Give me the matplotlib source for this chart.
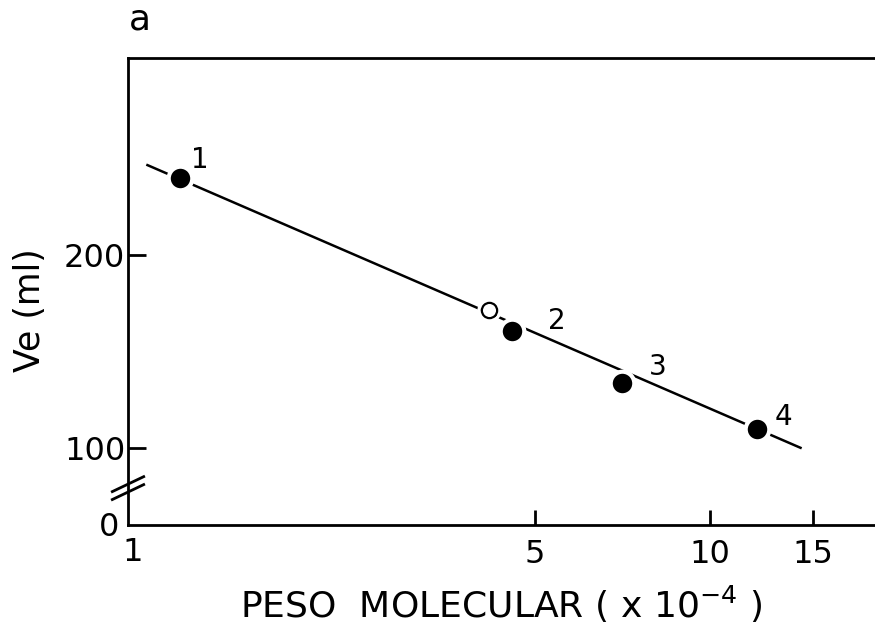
import numpy as np
import matplotlib
matplotlib.use("Agg")
import matplotlib.pyplot as plt

# ---- data ----
mw_filled = [1.23, 4.57, 7.06, 12.05]        # x 10^-4
ve_filled = [240.0, 160.5, 133.5, 110.0]     # ml
point_labels = ["1", "2", "3", "4"]
mw_open = [4.17]
ve_open = [171.5]
fit_x = [1.08, 14.3]
fit_y = [246.5, 100.0]
x_ticks = [5, 10, 15]
y_ticks = [100, 200]

plt.rcParams['font.family'] = ["DejaVu Sans"]

fig = plt.figure(figsize=(8.75, 6.37), dpi=100)
ax = fig.add_axes([128/875, 1-525/637, 1-128/875, (525-58)/637])
ax.set_xscale('log')
ax.set_xlim(1, 19.2)
ax.set_ylim(60, 302)

lw = 2.0
ax.plot(fit_x, fit_y, color='black', lw=1.8, zorder=2)
ax.plot(mw_filled, ve_filled, 'o', ms=17, mfc='black', mec='white', mew=3, zorder=3)
ax.plot(mw_open, ve_open, 'o', ms=11, mfc='white', mec='black', mew=1.6, zorder=3)
ax.plot(mw_open, ve_open, 'o', ms=15, mfc='none', mec='white', mew=2.5, zorder=2.5)

offsets_px = [(19, 18), (45, 10), (36, 16), (26, 12)]
for x, y, lab, (dx, dy) in zip(mw_filled, ve_filled, point_labels, offsets_px):
    ax.annotate(lab, (x, y), xytext=(dx * 0.72, dy * 0.72), textcoords='offset points',
                fontsize=20, ha='center', va='center')

for s in ['left', 'bottom', 'top']:
    ax.spines[s].set_linewidth(lw)
ax.spines['right'].set_visible(False)

ax.set_xticks(x_ticks)
ax.set_xticklabels([str(t) for t in x_ticks])
ax.xaxis.set_minor_locator(matplotlib.ticker.NullLocator())
ax.set_yticks(y_ticks)
ax.set_yticklabels([str(t) for t in y_ticks])
ax.tick_params(axis='x', direction='in', length=11, width=lw, labelsize=23, pad=10)
ax.tick_params(axis='y', direction='in', length=13, width=lw, labelsize=23, pad=2)

# extra labels "1" and "0" at axis origin
ax.text(0.006, -0.025, "1", transform=ax.transAxes, fontsize=23, ha='center', va='top')
ax.text(-0.012, -0.005, "0", transform=ax.transAxes, fontsize=23, ha='right', va='center')

# axis break marks
yb = 0.079
for d in [-0.0085, 0.0085]:
    ax.plot([-0.021, 0.021], [yb + d - 0.016, yb + d + 0.016], transform=ax.transAxes,
            color='black', lw=lw, clip_on=False)

ax.set_ylabel("Ve (ml)", fontsize=25, labelpad=12, y=0.46)
ax.set_xlabel("PESO  MOLECULAR ( x 10$^{-4}$ )", fontsize=26, labelpad=10, x=0.5)
fig.text(140/875, 1-20/637, "a", fontsize=26, ha='center', va='center')

fig.savefig("out.png", dpi=100)
